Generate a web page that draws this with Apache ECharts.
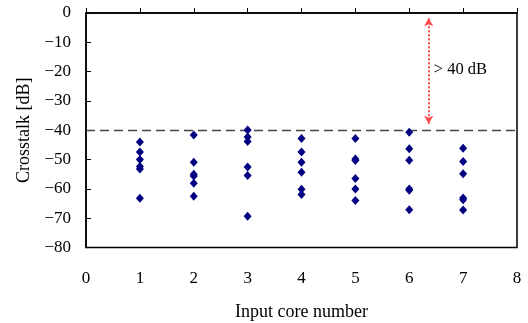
<!DOCTYPE html>
<html><head><meta charset="utf-8">
<script src="https://cdn.jsdelivr.net/npm/echarts@6/dist/echarts.min.js"></script>
<style>html,body{margin:0;padding:0;background:#fff}#c{width:528px;height:323px}</style>
</head><body><div id="c"></div>
<script>
const cores = [1, 2, 3, 4, 5, 6, 7];
const crosstalk = [
  [-44.0, -47.4, -50.0, -52.4, -53.2, -63.2],
  [-41.6, -50.9, -55.0, -55.6, -58.1, -62.5],
  [-39.9, -42.3, -43.8, -52.5, -55.4, -69.3],
  [-42.8, -47.4, -50.9, -54.3, -60.1, -61.9],
  [-42.8, -49.8, -50.3, -56.5, -60.0, -64.0],
  [-40.7, -46.3, -50.2, -60.0, -60.5, -67.1],
  [-46.1, -50.7, -54.8, -63.1, -63.7, -67.2]
];
const thresholdDb = -40;
const arrowX = 6.36;
const arrowTop = -1.8;
const arrowBottom = -37.8;
const annotationText = '> 40 dB';
const xTicks = [0, 1, 2, 3, 4, 5, 6, 7, 8];
const yTicks = [0, -10, -20, -30, -40, -50, -60, -70, -80];

const points = [];
cores.forEach((c, i) => crosstalk[i].forEach(v => points.push([c, v])));
const font = '"Liberation Serif","Times New Roman",serif';
const fmtY = v => (v < 0 ? '\u2212' + Math.abs(v) : String(v));

const chart = echarts.init(document.getElementById('c'), null, {renderer: 'canvas'});
chart.setOption({
  animation: false,
  backgroundColor: '#fff',
  grid: {left: 86, right: 11, top: 13, bottom: 75.5, outerBoundsMode: 'none', containLabel: false,
         show: true, borderColor: '#000', borderWidth: 1.5, backgroundColor: 'transparent'},
  xAxis: {
    type: 'value', min: 0, max: 8, interval: 1,
    name: 'Input core number', nameLocation: 'middle', nameGap: 56,
    nameTextStyle: {fontFamily: font, fontSize: 18, color: '#000'},
    axisLine: {show: true, lineStyle: {color: '#000', width: 1.5}},
    axisTick: {show: true, inside: true, length: 5, lineStyle: {color: '#000'}},
    axisLabel: {fontFamily: font, fontSize: 17, color: '#000', margin: 23},
    splitLine: {show: false}
  },
  yAxis: {
    type: 'value', min: -80, max: 0, interval: 10,
    name: 'Crosstalk [dB]', nameLocation: 'middle', nameGap: 52, nameRotate: 90,
    nameTextStyle: {fontFamily: font, fontSize: 18, color: '#000'},
    axisLine: {show: true, lineStyle: {color: '#000', width: 1.5}},
    axisTick: {show: true, inside: true, length: 5, lineStyle: {color: '#000'}},
    axisLabel: {fontFamily: font, fontSize: 17, color: '#000', margin: 15, formatter: fmtY},
    splitLine: {show: false}
  },
  series: [
    {
      type: 'scatter', data: points, symbol: 'diamond', symbolSize: [8, 9],
      itemStyle: {color: '#000080', opacity: 1}, z: 5,
      markLine: {
        silent: true, symbol: ['none', 'none'], animation: false,
        label: {show: false},
        lineStyle: {color: '#444', type: [9, 5], width: 1.3, opacity: 1},
        data: [{yAxis: thresholdDb}]
      }
    },
    {
      type: 'scatter', data: [],
      markLine: {
        silent: true, animation: false, symbol: ['arrow', 'arrow'], symbolSize: [7, 8],
        label: {show: false},
        lineStyle: {color: '#ff4a4a', type: [2, 2], width: 2, opacity: 1},
        data: [[{coord: [arrowX, arrowTop]}, {coord: [arrowX, arrowBottom]}]]
      },
      markPoint: {
        silent: true, animation: false, symbol: 'circle', symbolSize: 0,
        label: {show: true, position: 'right', distance: 4, formatter: annotationText, fontFamily: font, fontSize: 16.5, color: '#000'},
        data: [{coord: [arrowX + 0.02, -19.3]}]
      }
    }
  ]
});
</script></body></html>
